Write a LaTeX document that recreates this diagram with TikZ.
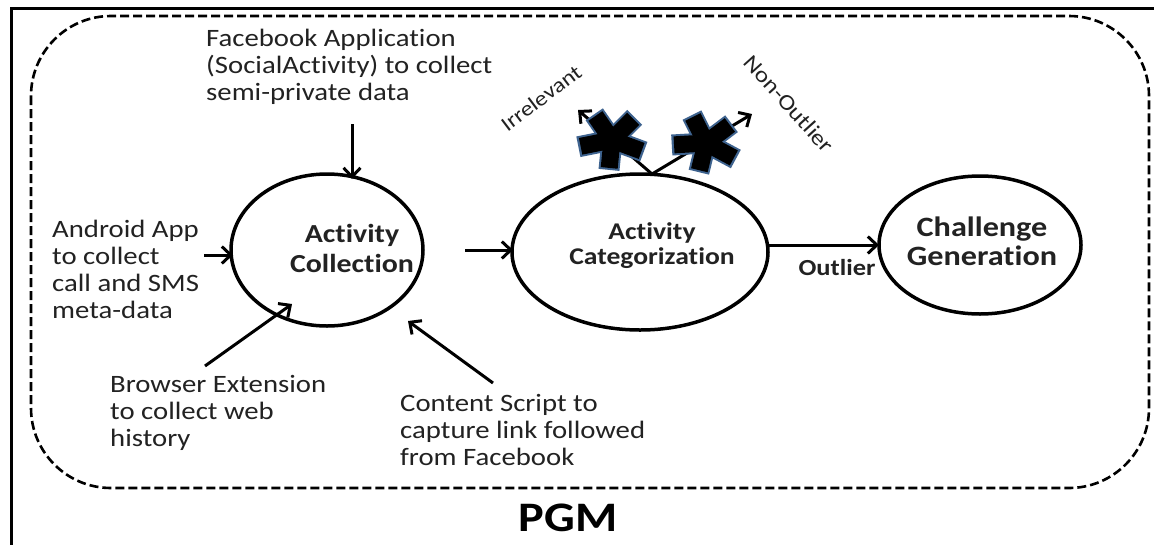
\documentclass[tikz,border=0pt]{standalone}
\usepackage{fontspec}
\setmainfont{Carlito}[FakeStretch=1.15, RawFeature={-liga;-clig;-calt;-dlig}]
\usetikzlibrary{arrows.meta,shapes.geometric}
\definecolor{txt}{HTML}{222222}
\definecolor{starblue}{HTML}{3E638F}
\begin{document}
\begin{tikzpicture}[x=1pt,y=-1pt,
  proc/.style={ellipse, draw=black, line width=3.5pt, inner sep=0pt},
  lbl/.style={text=txt, font=\fontsize{25}{27}\selectfont, align=left, inner sep=0pt, anchor=base west},
  plbl/.style={text=txt, align=center, inner sep=0pt, anchor=base},
  arr/.style={line width=3pt, -{Straight Barb[length=9pt,width=17pt,line width=3pt]}},
]
\useasboundingbox (0,0) rectangle (1154,544);
\fill[white] (0,0) rectangle (1154,544);
% outer box
\draw[line width=3pt] (11,8) rectangle (1175,570);
% dashed rounded box
\draw[line width=2.6pt, dash pattern=on 9pt off 4pt, rounded corners=80pt] (31,16) rectangle (1149,488);

% process ellipses
\node[proc, minimum width=192pt, minimum height=152pt] (ac) at (327,250) {};
\node[proc, minimum width=256pt, minimum height=156pt] (cat) at (640,252) {};
\node[proc, minimum width=202pt, minimum height=138pt] (cg) at (980,245) {};

% process labels (base = last line)
\node[plbl, font=\bfseries\fontsize{26}{30}\selectfont] (acl) at (352,272) {Activity\\Collection};
\node[plbl, font=\bfseries\fontsize{24}{25}\selectfont] (catl) at (652,264) {Activity\\Categorization};
\node[plbl, font=\bfseries\fontsize{28}{29}\selectfont] (cgl) at (982,265) {Challenge\\Generation};

% input texts (base = last line)
\node[lbl] (fb) at (206,100) {Facebook Application\\(SocialActivity) to collect\\semi-private data};
\node[lbl] (android) at (52,318) {Android App\\to collect\\call and SMS\\meta-data};
\node[lbl] (browser) at (110,446) {Browser Extension\\to collect web\\history};
\node[lbl] (content) at (400,465) {Content Script to\\capture link followed\\from Facebook};

% arrow coordinates
\coordinate (fbs) at (352,124);
\coordinate (fbe) at (352,179);
\coordinate (ans) at (204,255);
\coordinate (ane) at (233,255);
\coordinate (brs) at (205,366);
\coordinate (bre) at (292,304);
\coordinate (cos) at (493,383);
\coordinate (coe) at (408,321);
\coordinate (acs) at (465,250);
\coordinate (cate) at (513,250);
\coordinate (cats) at (769,245);
\coordinate (cge) at (879,245);
\coordinate (top) at (652,174);
\coordinate (irr) at (578,110);
\coordinate (non) at (752,114);

\draw[arr] (fbs) -- (fbe);
\draw[arr] (ans) -- (ane);
\draw[arr] (brs) -- (bre);
\draw[arr] (cos) -- (coe);
\draw[arr] (acs) -- (cate);
\draw[arr] (cats) -- (cge);
\draw[arr] (top) -- (irr);
\draw[arr] (top) -- (non);

\node[text=txt, font=\bfseries\fontsize{23}{24}\selectfont, inner sep=0pt] (outl) at (837,268) {Outlier};
\node[text=txt, font=\fontsize{21}{24}\selectfont, inner sep=0pt, rotate=37] (irrl) at (541,98) {Irrelevant};
\node[text=txt, font=\fontsize{22}{24}\selectfont, inner sep=0pt, rotate=-48] (nonl) at (789,104) {Non-Outlier};

% asterisks (blocked paths)
\foreach \cx/\cy/\r in {612/140/0, 706/143/-8}{
  \begin{scope}[shift={(\cx,\cy)}, rotate=\r, xscale=1.15]
    \foreach \a in {95,167,239,311,23}{
      \draw[draw=starblue, line width=21pt] (0,0) -- (\a:30);
    }
    \foreach \a in {95,167,239,311,23}{
      \draw[draw=black, line width=17pt] (0,0) -- (\a:28);
    }
  \end{scope}
}

\node[text=black, font=\bfseries\fontsize{42}{44}\selectfont, inner sep=0pt] (pgm) at (568,518) {PGM};
\end{tikzpicture}
\end{document}
